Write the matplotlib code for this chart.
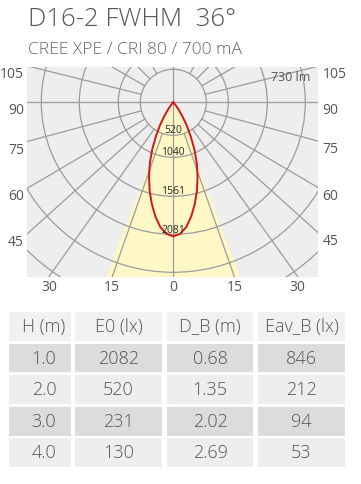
import numpy as np
import matplotlib
matplotlib.use("Agg")
import matplotlib.pyplot as plt
from matplotlib.patches import Circle, Rectangle, Wedge

plt.rcParams['font.family'] = ['Open Sans', 'DejaVu Sans']

# ---- data ----
TITLE = "D16-2 FWHM  36°"
SUBTITLE = "CREE XPE / CRI 80 / 700 mA"
FLUX_LABEL = "730 lm"

# half of the (symmetric) intensity curve, angle from nadir
theta_deg = [0, 3, 6, 9, 12, 15, 18, 21, 24, 27, 30, 33, 36, 39, 42, 45]
intensity_cd = [2081, 2045, 1945, 1790, 1610, 1420, 1220, 1020, 810, 600,
                420, 260, 140, 60, 15, 0]

ring_labels = [520, 1040, 1561, 2081]
side_ticks = ["105", "90", "75", "60", "45"]
bottom_ticks = ["30", "15", "0", "15", "30"]

table_header = ["H (m)", "E0 (lx)", "D_B (m)", "Eav_B (lx)"]
height_m = ["1.0", "2.0", "3.0", "4.0"]
e0_lx = [2082, 520, 231, 130]
d_b_m = ["0.68", "1.35", "2.02", "2.69"]
eav_b_lx = [846, 212, 94, 53]

# ---- layout (pixels) ----
W, H = 361, 485
CX, CY = 173.3, 103.3
LEFT, RIGHT, TOP, BOTTOM = 27, 318.3, 68.3, 277.7
S = 2081 / 134.0          # cd per pixel
HUB = 33
RINGS = [55, 94, 132, 170, 208]
RING_LABEL_R = [33, 55, 94, 133]
SIDE_RAYS = [104, 90, 75, 59.5, 48]
BOTTOM_RAYS = [35.5, 19.3, 0]
RAYS = [19.3, 35.5, 48, 59.5, 75, 104, 120, 135, 150]
BEAM_HALF = 21

GRID = "#9b9b9b"
YELLOW = "#fff8c6"
TXT = "#555555"

fig = plt.figure(figsize=(W / 100, H / 100), dpi=100)
fig.patch.set_facecolor("white")

ax = fig.add_axes([LEFT / W, 1 - BOTTOM / H, (RIGHT - LEFT) / W, (BOTTOM - TOP) / H])
ax.set_xlim((LEFT - CX) * S, (RIGHT - CX) * S)
ax.set_ylim((CY - BOTTOM) * S, (CY - TOP) * S)
ax.set_facecolor("#edeeed")
ax.set_xticks([])
ax.set_yticks([])
for sp in ax.spines.values():
    sp.set_visible(False)

# beam cone + curve fill
ax.add_patch(Wedge((0, 0), 400 * S, 270 - BEAM_HALF, 270 + BEAM_HALF,
                   fc=YELLOW, ec="none", zorder=1))
th = np.radians(theta_deg)
full_th = np.concatenate([-th[::-1], th[1:]])
full_i = np.concatenate([np.array(intensity_cd)[::-1], np.array(intensity_cd)[1:]])
cx = full_i * np.sin(full_th)
cy = -full_i * np.cos(full_th)
ax.fill(cx, cy, color=YELLOW, lw=0, zorder=1)

# grid
ax.add_patch(Circle((0, 0), HUB * S, fill=False, ec=GRID, lw=0.9, zorder=2))
for r in RINGS:
    ax.add_patch(Circle((0, 0), r * S, fill=False, ec=GRID, lw=0.9, zorder=2))
ax.axhline(0, color=GRID, lw=0.9, zorder=2)
ax.axvline(0, color=GRID, lw=0.9, zorder=2)
for a in RAYS:
    p = np.radians(a)
    for sgn in (-1, 1):
        ax.plot([sgn * HUB * S * np.sin(p), sgn * 500 * S * np.sin(p)],
                [-HUB * S * np.cos(p), -500 * S * np.cos(p)],
                color=GRID, lw=0.9, zorder=2)

# intensity curve
ax.plot(cx, cy, color="#d01818", lw=1.4, zorder=4)

# ring labels
for val, r in zip(ring_labels, RING_LABEL_R):
    ax.text(0, -(r - 3.5) * S, str(val), ha="center", va="baseline",
            fontsize=7.5, color="#2a2a2a", zorder=5)

ax.text((RIGHT - CX - 7.6) * S, (CY - 78) * S, FLUX_LABEL, ha="right",
        va="center", fontsize=9, color=TXT)

# side tick labels
x0, x1 = ax.get_xlim()
y0, y1 = ax.get_ylim()
for lab, a in zip(side_ticks, SIDE_RAYS):
    p = np.radians(a)
    yl = -np.cos(p) * (-x0 / np.sin(p)) - 7.5 * S
    yr = -np.cos(p) * (x1 / np.sin(p)) - 7.5 * S
    ax.text(x0 - 3 * S, yl, lab, ha="right", va="center", fontsize=10,
            color=TXT, clip_on=False)
    ax.text(x1 + 4.4 * S, yr, lab, ha="left", va="center", fontsize=10,
            color=TXT, clip_on=False)

bottom_x = [-np.tan(np.radians(a)) * (-y0) for a in BOTTOM_RAYS]
bottom_x += [np.tan(np.radians(a)) * (-y0) for a in BOTTOM_RAYS[1::-1]]
for lab, x in zip(bottom_ticks, bottom_x):
    ax.text(x, y0 - 10 * S, lab, ha="center", va="center", fontsize=10,
            color=TXT, clip_on=False)

# titles
fig.text(28 / W, 1 - 26 / H, TITLE, fontsize=18.5, color=TXT, va="baseline",
         fontweight="light")
fig.text(28 / W, 1 - 54 / H, SUBTITLE, fontsize=12.5, color="#666666",
         va="baseline", fontweight="light")

# ---- table ----
tab = fig.add_axes([0, 0, 1, 1])
tab.set_xlim(0, W)
tab.set_ylim(H, 0)
tab.axis("off")

cols = [(9, 71), (75, 162), (167, 253), (258, 345)]
rows = [(313, 342), (345, 373), (376, 405), (408, 437), (439, 468)]
row_colors = ["#f2f0f0", "#dddcdc", "#efeded", "#dddcdc", "#efeded"]

cells = [table_header] + [
    [h, str(e), d, str(ev)] for h, e, d, ev in zip(height_m, e0_lx, d_b_m, eav_b_lx)
]
for ri, (ya, yb) in enumerate(rows):
    for ci, (xa, xb) in enumerate(cols):
        tab.add_patch(Rectangle((xa, ya), xb - xa, yb - ya, fc=row_colors[ri], ec="none"))
        tab.text((xa + xb) / 2 + (4 if ci == 0 else 0), (ya + yb) / 2, cells[ri][ci],
                 ha="center", va="center", fontsize=13, color=TXT, fontweight="light")

fig.savefig("out.png", dpi=100)
